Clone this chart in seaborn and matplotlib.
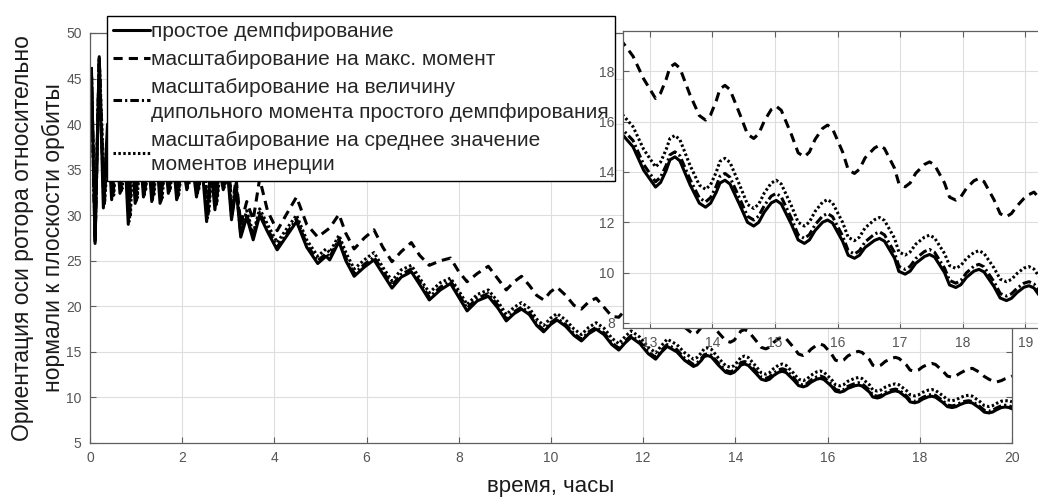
import matplotlib
matplotlib.use("Agg")
import matplotlib.pyplot as plt
import seaborn as sns

# time axis, hours: the dense start differs slightly per series, the rest is shared
hours_early_simple = [0.00, 0.03, 0.11, 0.20, 0.29, 0.38, 0.47, 0.56, 0.65, 0.74, 0.83, 0.90,
                      0.98, 1.07, 1.16, 1.25, 1.34, 1.43, 1.52, 1.61, 1.70, 1.79, 1.88, 1.99,
                      2.10, 2.20, 2.31, 2.42, 2.53, 2.62, 2.71, 2.80, 2.89, 2.98]
hours_early_max = [0.00, 0.03, 0.11, 0.20, 0.31, 0.41, 0.50, 0.59, 0.68, 0.77, 0.86, 0.93,
                   1.01, 1.10, 1.19, 1.28, 1.37, 1.46, 1.55, 1.64, 1.73, 1.82, 1.91, 2.02,
                   2.13, 2.23, 2.34, 2.45, 2.56, 2.65, 2.74, 2.83, 2.92, 3.01]
hours_early_dipole = [0.00, 0.03, 0.11, 0.20, 0.30, 0.395, 0.485, 0.575, 0.665, 0.755, 0.845,
                      0.915, 0.995, 1.085, 1.175, 1.265, 1.355, 1.445, 1.535, 1.625, 1.715,
                      1.805, 1.895, 2.005, 2.115, 2.215, 2.325, 2.435, 2.545, 2.635, 2.725,
                      2.815, 2.905, 2.995]
hours_early_inertia = [0.00, 0.03, 0.11, 0.20, 0.32, 0.425, 0.515, 0.605, 0.695, 0.785, 0.875,
                       0.945, 1.025, 1.115, 1.205, 1.295, 1.385, 1.475, 1.565, 1.655, 1.745,
                       1.835, 1.925, 2.035, 2.145, 2.245, 2.355, 2.465, 2.575, 2.665, 2.755,
                       2.845, 2.935, 3.025]
hours_mid = [3.07, 3.17, 3.27, 3.40, 3.54, 3.68, 3.85, 4.06, 4.25, 4.48, 4.70, 4.94,
             5.12, 5.20, 5.40, 5.55, 5.73, 5.95, 6.16, 6.35, 6.55, 6.75, 6.97, 7.15,
             7.36, 7.60, 7.82, 8.00, 8.18, 8.40, 8.64, 8.85]
hours_late = [9.03, 9.20, 9.36, 9.53, 9.69, 9.84, 9.99, 10.13, 10.32, 10.50, 10.66, 10.82,
              10.98, 11.15, 11.32, 11.47, 11.61, 11.74, 11.93, 12.11, 12.27, 12.40, 12.52,
              12.73, 12.90]
hours_end = [13.09, 13.17, 13.26, 13.32, 13.40, 13.48, 13.64, 13.79,
             13.89, 13.97, 14.06, 14.12, 14.20, 14.28, 14.44, 14.56,
             14.66, 14.74, 14.83, 14.94, 15.02, 15.10, 15.26, 15.37,
             15.47, 15.55, 15.64, 15.76, 15.84, 15.92, 16.08, 16.17,
             16.27, 16.35, 16.44, 16.59, 16.67, 16.75, 16.91, 16.98,
             17.08, 17.16, 17.25, 17.39, 17.47, 17.55, 17.71, 17.79,
             17.89, 17.97, 18.06, 18.18, 18.26, 18.34, 18.50, 18.60,
             18.70, 18.78, 18.87, 18.98, 19.06, 19.14, 19.30, 19.40,
             19.50, 19.58, 19.67, 19.77, 19.85, 19.93, 20.00]
hours_common = hours_mid + hours_late + hours_end

# простое демпфирование
simple = (
    [41.4, 46.0, 26.9, 47.4, 30.8, 40.0, 31.7, 39.0, 32.4, 38.5, 29.0, 38.0, 31.3, 38.0,
     32.0, 37.5, 31.5, 37.5, 31.3, 37.0, 32.4, 37.0, 31.7, 36.5, 32.8, 36.5, 32.0, 36.0,
     29.3, 35.5, 30.6, 35.5, 32.8, 35.0]
    + [29.5, 33.0, 27.6, 29.8, 27.3, 30.0, 28.2, 26.2, 27.6, 29.3, 26.5, 24.7, 25.5, 25.1,
       27.1, 25.0, 23.3, 24.3, 25.1, 23.6, 22.0, 23.2, 23.8, 22.4, 20.7, 21.8, 22.5, 21.0,
       19.5, 20.6, 21.1, 19.8]
    + [18.4, 19.2, 19.7, 19.1, 17.9, 17.2, 18.0, 18.5, 17.8, 16.8, 16.2, 17.0, 17.5, 16.9,
       15.8, 15.2, 16.0, 16.6, 15.9, 14.8, 14.2, 15.0, 15.6, 15.0, 14.07]
    + [13.4, 13.58, 14.06, 14.48, 14.6, 14.44, 13.5, 12.76,
       12.6, 12.76, 13.19, 13.56, 13.67, 13.52, 12.67, 12.0,
       11.85, 12.0, 12.41, 12.77, 12.87, 12.73, 11.93, 11.3,
       11.16, 11.3, 11.67, 12.0, 12.09, 11.97, 11.25, 10.69,
       10.57, 10.69, 11.0, 11.28, 11.36, 11.25, 10.58, 10.05,
       9.94, 10.06, 10.37, 10.64, 10.72, 10.62, 10.0, 9.51,
       9.41, 9.52, 9.81, 10.06, 10.13, 10.03, 9.45, 8.99,
       8.89, 8.98, 9.21, 9.42, 9.48, 9.39, 8.83, 8.39,
       8.3, 8.4, 8.66, 8.89, 8.95, 8.9, 8.75]
)

# масштабирование на макс. момент
max_moment = (
    [41.6, 46.2, 27.3, 47.0, 31.3, 40.5, 32.0, 39.5, 32.7, 39.0, 29.6, 38.5, 31.7, 38.5,
     32.4, 38.0, 31.9, 38.0, 31.7, 37.5, 32.8, 37.5, 32.1, 37.0, 33.2, 37.0, 32.5, 36.5,
     30.0, 36.0, 31.2, 36.0, 33.3, 36.0]
    + [30.5, 34.0, 29.0, 31.5, 29.5, 34.0, 30.5, 28.3, 30.0, 32.0, 29.0, 27.6, 28.3, 28.6,
       30.1, 28.0, 26.3, 27.5, 28.4, 26.5, 24.9, 26.0, 27.0, 25.6, 24.5, 25.0, 25.3, 23.8,
       22.7, 23.6, 24.4, 23.0]
    + [21.8, 22.7, 23.3, 22.3, 21.2, 20.7, 21.6, 22.1, 21.2, 20.1, 19.7, 20.5, 20.9, 19.9,
       18.9, 18.8, 19.6, 19.9, 19.0, 18.0, 17.9, 18.7, 19.3, 18.6, 17.7]
    + [16.92, 17.13, 17.68, 18.16, 18.3, 18.12, 17.07, 16.24,
       16.06, 16.27, 16.82, 17.3, 17.44, 17.27, 16.28, 15.5,
       15.33, 15.52, 16.03, 16.48, 16.61, 16.45, 15.5, 14.76,
       14.6, 14.79, 15.29, 15.73, 15.86, 15.71, 14.8, 14.09,
       13.94, 14.11, 14.56, 14.95, 15.06, 14.93, 14.15, 13.54,
       13.41, 13.56, 13.95, 14.3, 14.4, 14.28, 13.56, 13.0,
       12.88, 13.01, 13.35, 13.65, 13.74, 13.62, 12.9, 12.34,
       12.22, 12.35, 12.65, 12.95, 13.1, 13.2, 12.75, 12.3,
       12.0, 11.8, 11.7, 11.85, 12.05, 12.2, 12.35]
)

# масштабирование на величину дипольного момента простого демпфирования
dipole = (
    [41.5, 46.1, 27.0, 47.2, 31.0, 40.0, 31.9, 39.2, 32.6, 38.6, 29.3, 38.2, 31.5, 38.2,
     32.2, 37.6, 31.7, 37.6, 31.5, 37.2, 32.6, 37.2, 31.9, 36.7, 33.0, 36.7, 32.2, 36.2,
     29.6, 35.7, 30.9, 35.7, 33.0, 35.2]
    + [29.8, 33.2, 27.9, 30.1, 27.6, 30.3, 28.5, 26.5, 27.9, 29.6, 26.8, 25.0, 25.8, 25.4,
       27.4, 25.3, 23.6, 24.6, 25.4, 23.9, 22.3, 23.5, 24.1, 22.7, 21.0, 22.1, 22.8, 21.3,
       19.8, 20.9, 21.4, 20.1]
    + [18.6, 19.4, 19.9, 19.3, 18.1, 17.4, 18.2, 18.7, 18.0, 17.0, 16.4, 17.2, 17.7, 17.1,
       16.0, 15.4, 16.2, 16.8, 16.1, 15.0, 14.4, 15.2, 15.8, 15.25, 14.3]
    + [13.61, 13.79, 14.26, 14.68, 14.8, 14.64, 13.71, 12.97,
       12.81, 12.98, 13.43, 13.83, 13.94, 13.79, 12.92, 12.24,
       12.09, 12.25, 12.67, 13.04, 13.15, 13.01, 12.17, 11.5,
       11.36, 11.51, 11.9, 12.25, 12.35, 12.22, 11.46, 10.87,
       10.74, 10.87, 11.22, 11.53, 11.62, 11.5, 10.8, 10.25,
       10.13, 10.25, 10.56, 10.84, 10.92, 10.81, 10.18, 9.69,
       9.58, 9.69, 9.99, 10.26, 10.33, 10.23, 9.64, 9.17,
       9.07, 9.16, 9.38, 9.58, 9.64, 9.55, 9.01, 8.59,
       8.5, 8.6, 8.86, 9.09, 9.15, 9.1, 8.95]
)

# масштабирование на среднее значение моментов инерции
inertia = (
    [41.5, 46.3, 27.5, 47.2, 31.5, 40.5, 32.2, 39.5, 32.9, 39.0, 29.8, 38.5, 31.9, 38.5,
     32.6, 38.0, 32.1, 38.0, 31.9, 37.5, 33.0, 37.5, 32.3, 37.0, 33.4, 37.0, 32.7, 36.5,
     30.2, 36.0, 31.5, 36.0, 33.5, 35.5]
    + [30.2, 33.5, 28.3, 30.5, 28.0, 30.7, 29.0, 27.0, 28.4, 30.0, 27.3, 25.5, 26.3, 25.9,
       27.8, 25.9, 24.1, 25.1, 25.9, 24.3, 22.8, 24.0, 24.5, 23.1, 21.5, 22.6, 23.1, 21.7,
       20.2, 21.3, 21.8, 20.5]
    + [19.1, 19.9, 20.4, 19.8, 18.6, 17.9, 18.7, 19.2, 18.5, 17.5, 16.9, 17.7, 18.2, 17.6,
       16.5, 15.9, 16.7, 17.3, 16.6, 15.5, 14.9, 15.7, 16.4, 15.8, 14.9]
    + [14.2, 14.39, 14.89, 15.33, 15.45, 15.28, 14.27, 13.48,
       13.31, 13.49, 13.99, 14.42, 14.54, 14.38, 13.45, 12.71,
       12.55, 12.72, 13.17, 13.56, 13.67, 13.52, 12.67, 12.0,
       11.85, 12.01, 12.43, 12.8, 12.9, 12.77, 12.0, 11.4,
       11.27, 11.41, 11.78, 12.1, 12.19, 12.07, 11.37, 10.82,
       10.7, 10.82, 11.13, 11.41, 11.49, 11.38, 10.76, 10.28,
       10.17, 10.28, 10.56, 10.8, 10.87, 10.77, 10.19, 9.74,
       9.64, 9.73, 9.97, 10.18, 10.24, 10.14, 9.56, 9.1,
       9.0, 9.1, 9.36, 9.59, 9.65, 9.62, 9.53]
)

labels = [
    "простое демпфирование",
    "масштабирование на макс. момент",
    "масштабирование на величину\nдипольного момента простого демпфирования",
    "масштабирование на среднее значение\nмоментов инерции",
]
series = [
    (hours_early_simple + hours_common, simple, "-"),
    (hours_early_max + hours_common, max_moment, (0, (3.0, 2.0))),
    (hours_early_dipole + hours_common, dipole, (0, (2.8, 1.0, 0.7, 1.0))),
    (hours_early_inertia + hours_common, inertia, (0, (0.8, 0.8))),
]

sns.set_style("ticks")
plt.rcParams["font.family"] = ["Liberation Sans", "DejaVu Sans"]

grey = "#5f5f5f"
tick_grey = "#555555"

fig = plt.figure(figsize=(10.38, 4.97), dpi=100)
ax = fig.add_axes([90 / 1038, 54 / 497, 922 / 1038, 410 / 497])
axin = fig.add_axes([623 / 1038, 169 / 497, 421 / 1038, 297 / 497])


def draw(a):
    for t, vals, ls in series:
        sns.lineplot(x=t, y=vals, ax=a, color="black", lw=2.2, linestyle=ls,
                     sort=False, estimator=None)


def style_axes(a, xt, yt):
    a.set_xticks(xt)
    a.set_yticks(yt)
    a.grid(True, color="#dedede", lw=0.8)
    a.tick_params(direction="in", length=4, width=0.8, colors=grey,
                  labelcolor=tick_grey, labelsize=10, pad=6,
                  top=True, right=True)
    for s in a.spines.values():
        s.set_color(grey)
        s.set_linewidth(0.9)
        s.set_visible(True)
    a.set_facecolor("white")


draw(ax)
ax.set_xlim(0, 20)
ax.set_ylim(5, 50)
style_axes(ax, range(0, 21, 2), range(5, 51, 5))
ax.set_xlabel("время, часы", fontsize=16, labelpad=8, color="#1a1a1a")
ax.set_ylabel("Ориентация оси ротора относительно\nнормали к плоскости орбиты",
              fontsize=16.5, labelpad=1, color="#1a1a1a", linespacing=1.42)

leg = ax.legend(ax.lines[:4], labels, loc="upper left",
                bbox_to_anchor=(107 / 1038, 1 - 16 / 497),
                bbox_transform=fig.transFigure, fontsize=15, frameon=True,
                fancybox=False, edgecolor="black", framealpha=1,
                handlelength=1.75, handletextpad=0.05, borderpad=0.3,
                labelspacing=0.42, borderaxespad=0)
leg.get_frame().set_linewidth(1.0)
for txt in leg.get_texts():
    txt.set_linespacing(1.4)

draw(axin)
axin.set_xlim(12.57, 19.3)
axin.set_ylim(7.8, 19.6)
style_axes(axin, range(13, 20), range(8, 19, 2))
axin.set_xlabel("")
axin.set_ylabel("")

fig.savefig("out.png", dpi=100)
